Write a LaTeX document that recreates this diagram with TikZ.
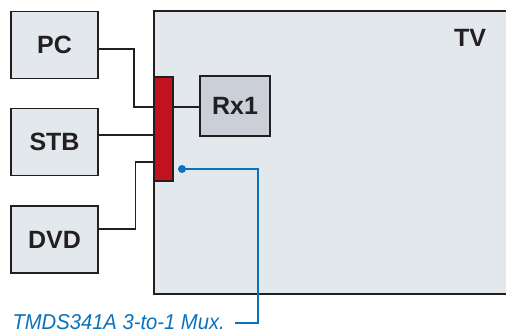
\documentclass[tikz,border=0pt]{standalone}
\usepackage{fontspec}
\setmainfont{Liberation Sans}
\definecolor{boxfill}{HTML}{E3E8ED}
\definecolor{rxfill}{HTML}{CACFD8}
\definecolor{muxred}{HTML}{C1121F}
\definecolor{muxblue}{HTML}{0A72BD}
\definecolor{edge}{HTML}{231F20}
\tikzset{
  srcbox/.style={draw=edge, line width=1.7pt, fill=boxfill, minimum width=87pt, minimum height=67pt, inner sep=0pt, font=\fontsize{25}{25}\selectfont\bfseries, text=edge},
  wire/.style={draw=edge, line width=1.5pt},
}
\begin{document}
\begin{tikzpicture}[x=1pt,y=-1pt]
\useasboundingbox (0,0) rectangle (506,334);
\fill[white] (0,0) rectangle (506,334);
\node[draw=edge, line width=1.7pt, fill=boxfill, minimum width=360pt, minimum height=283pt, inner sep=0pt] (TV) at (334,152.5) {};
\node[font=\fontsize{25}{25}\selectfont\bfseries, text=edge] (TVlabel) at (470,38) {TV};
\node[srcbox] (PC) at (54.5,45) {PC};
\node[srcbox] (STB) at (54.5,142) {STB};
\node[srcbox] (DVD) at (54.5,239.5) {DVD};
\node[draw=edge, line width=1.5pt, fill=muxred, minimum width=19pt, minimum height=104pt, inner sep=0pt] (mux) at (163.5,129) {};
\node[draw=edge, line width=1.7pt, fill=rxfill, minimum width=70pt, minimum height=60pt, inner sep=0pt, font=\fontsize{25}{25}\selectfont\bfseries, text=edge] (rx) at (235,106) {Rx1};
% wires
\draw[wire] ([yshift=-4pt]PC.east) -- (134,49) |- ([yshift=22pt]mux.west);
\draw[wire] ([yshift=7pt]STB.east) -- (mux.west |- 0,135);
\draw[wire] ([yshift=10.5pt]DVD.east) -- (135.5,229) |- ([yshift=-33pt]mux.west);
\draw[wire] ([yshift=22pt]mux.east) -- (rx.west |- 0,107);
% label
\coordinate (dot) at (182,169);
\node[anchor=east, inner sep=0pt, text=muxblue, font=\fontsize{21.5}{21.5}\selectfont\itshape] (lbl) at (225,322) {\scalebox{0.94}[1]{TMDS341A 3-to-1 Mux.}};
\coordinate (lblend) at (235,323);
\fill[muxblue] (dot) circle (4pt);
\draw[muxblue, line width=2.4pt] (dot) -- (258,169) |- (lblend);
\end{tikzpicture}
\end{document}
